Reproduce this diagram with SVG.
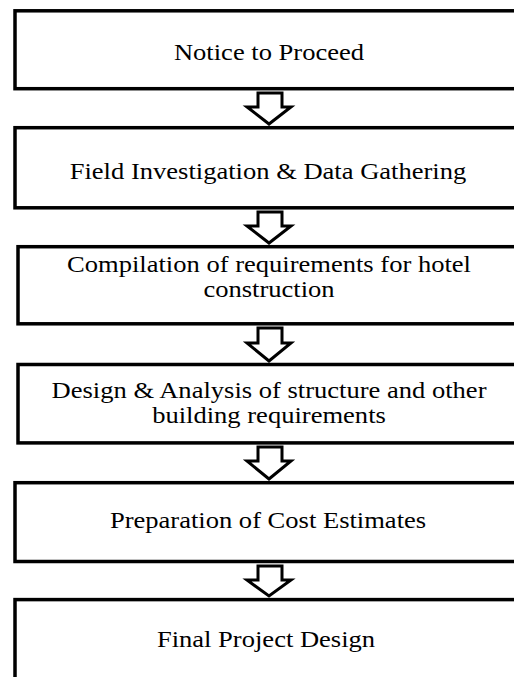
<svg xmlns="http://www.w3.org/2000/svg" width="514" height="677" viewBox="0 0 514 677">
<style>
.box{fill:#fff;stroke:#000;stroke-width:3.5}
.arr{fill:#fff;stroke:#000;stroke-width:3;stroke-linejoin:miter}
.t{font-family:"Liberation Serif","Times New Roman",serif;font-size:23.5px;fill:#000;text-anchor:middle}
</style>
<rect width="514" height="677" fill="#fff"/>
<g id="n1"><rect class="box" x="15" y="10.8" width="520" height="77.9"/>
<text class="t" transform="translate(269,60) scale(1.13,1)">Notice to Proceed</text></g>
<g id="n2"><rect class="box" x="15" y="127.7" width="520" height="80.1"/>
<text class="t" transform="translate(268,179) scale(1.13,1)">Field Investigation &amp; Data Gathering</text></g>
<g id="n3"><rect class="box" x="18" y="246.7" width="520" height="77.1"/>
<text class="t" transform="translate(269,272) scale(1.13,1)">Compilation of requirements for hotel</text>
<text class="t" transform="translate(269,297) scale(1.13,1)">construction</text></g>
<g id="n4"><rect class="box" x="18" y="364.5" width="520" height="78.4"/>
<text class="t" transform="translate(269,398) scale(1.13,1)">Design &amp; Analysis of structure and other</text>
<text class="t" transform="translate(269,423) scale(1.13,1)">building requirements</text></g>
<g id="n5"><rect class="box" x="15" y="482.7" width="520" height="78.8"/>
<text class="t" transform="translate(268,528) scale(1.13,1)">Preparation of Cost Estimates</text></g>
<g id="n6"><rect class="box" x="15" y="599.6" width="520" height="90"/>
<text class="t" transform="translate(266,647) scale(1.13,1)">Final Project Design</text></g>
<g id="connectors">
<path class="arr" d="M258,93 H282 V107 H291 L269,124 L247,107 H258 Z"/>
<path class="arr" d="M258,212 H282 V226 H291 L269,243 L247,226 H258 Z"/>
<path class="arr" d="M258,328 H282 V343 H291 L269,361 L247,343 H258 Z"/>
<path class="arr" d="M258,447 H282 V461 H291 L269,479 L247,461 H258 Z"/>
<path class="arr" d="M258,566 H282 V580 H291 L269,596 L247,580 H258 Z"/>
</g>
</svg>
